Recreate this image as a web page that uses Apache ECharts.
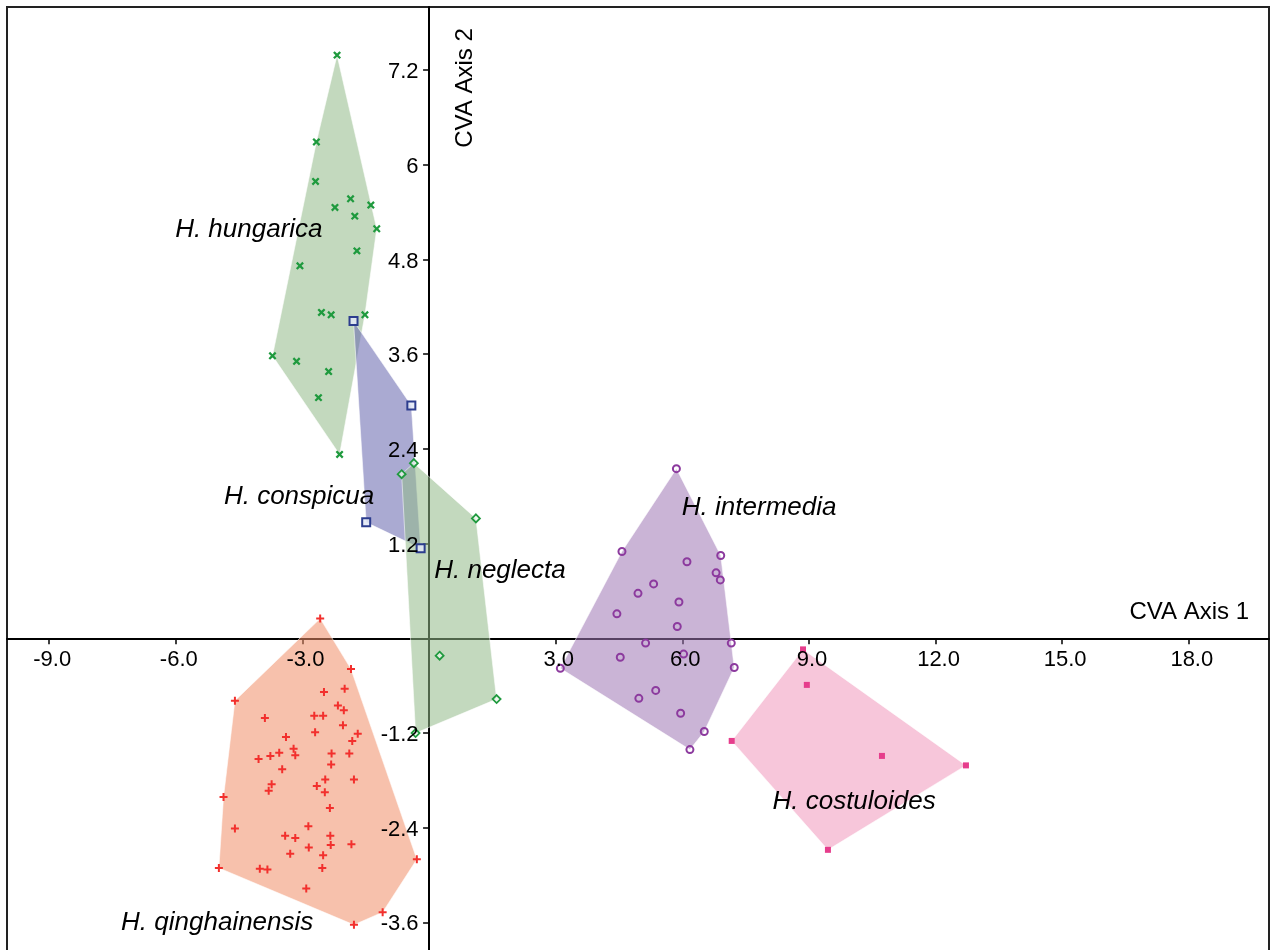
<!DOCTYPE html>
<html>
<head>
<meta charset="utf-8">
<script src="https://cdn.jsdelivr.net/npm/echarts@6/dist/echarts.min.js"></script>
<style>html,body{margin:0;padding:0;background:#fff}#c{width:1271px;height:950px}</style>
</head>
<body>
<div id="c"></div>
<script>
// ---- data (CVA scores) ----
const xTicks = [-9, -6, -3, 3, 6, 9, 12, 15, 18];
const yTicks = [-3.6, -2.4, -1.2, 1.2, 2.4, 3.6, 4.8, 6, 7.2];

const hungarica = [
  [-2.18, 7.39], [-2.67, 6.29], [-2.69, 5.79], [-1.86, 5.57], [-2.23, 5.46], [-1.38, 5.49],
  [-1.76, 5.35], [-1.24, 5.19], [-1.71, 4.91], [-3.06, 4.72], [-2.55, 4.13], [-2.32, 4.10],
  [-1.52, 4.10], [-3.71, 3.58], [-3.14, 3.51], [-2.38, 3.38], [-2.62, 3.05], [-2.12, 2.33]
];
const conspicua = [[-1.79, 4.02], [-0.42, 2.95], [-1.49, 1.47], [-0.20, 1.14]];
const neglecta = [[-0.36, 2.22], [-0.65, 2.08], [1.11, 1.52], [0.25, -0.22], [1.60, -0.77], [-0.32, -1.20]];
const qinghainensis = [
  [-2.58, 0.25], [-1.85, -0.39], [-2.49, -0.68], [-2.00, -0.64], [-4.60, -0.79], [-2.16, -0.85],
  [-2.02, -0.91], [-3.89, -1.01], [-2.72, -0.98], [-2.51, -0.98], [-2.04, -1.10], [-2.70, -1.19],
  [-1.69, -1.21], [-3.39, -1.25], [-1.82, -1.30], [-3.21, -1.40], [-3.55, -1.45], [-3.17, -1.48],
  [-3.76, -1.49], [-4.04, -1.53], [-2.31, -1.46], [-1.89, -1.46], [-2.32, -1.60], [-3.48, -1.66],
  [-2.46, -1.79], [-1.78, -1.79], [-3.73, -1.85], [-2.66, -1.87], [-3.80, -1.93], [-2.47, -1.95],
  [-4.87, -2.01], [-2.35, -2.15], [-4.60, -2.41], [-2.86, -2.38], [-3.41, -2.50], [-3.17, -2.53],
  [-2.34, -2.50], [-1.84, -2.61], [-2.33, -2.62], [-2.85, -2.65], [-3.29, -2.73], [-2.51, -2.75],
  [-0.29, -2.80], [-4.98, -2.91], [-4.01, -2.92], [-3.83, -2.93], [-2.53, -2.91], [-2.91, -3.17],
  [-1.10, -3.47], [-1.78, -3.63]
];
const intermedia = [
  [5.86, 2.15], [4.57, 1.10], [6.91, 1.05], [6.11, 0.97], [6.80, 0.83], [6.90, 0.74],
  [5.32, 0.69], [4.95, 0.57], [5.92, 0.46], [4.45, 0.31], [5.88, 0.15], [5.13, -0.06],
  [7.16, -0.06], [6.03, -0.20], [4.53, -0.24], [3.11, -0.38], [7.23, -0.37], [5.37, -0.66],
  [4.97, -0.76], [5.96, -0.95], [6.52, -1.18], [6.18, -1.41]
];
const costuloides = [[8.86, -0.14], [8.95, -0.59], [7.17, -1.30], [10.73, -1.49], [12.72, -1.61], [9.45, -2.68]];

const speciesNames = ['H. hungarica', 'H. conspicua', 'H. neglecta', 'H. qinghainensis', 'H. intermedia', 'H. costuloides'];
const labelAnchors = [[-4.27, 5.18], [-3.08, 1.79], [1.68, 0.85], [-5.02, -3.60], [7.82, 1.65], [10.07, -2.07]];

// ---- styling ----
const FONT = 'Liberation Sans, Arial, sans-serif';
const plusPath = 'path://M-1,-4H1V-1H4V1H1V4H-1V1H-4V-1H-1Z';
const groups = [
  { data: hungarica, fill: 'rgba(146,186,137,0.55)', sym: plusPath, rot: 45, size: 9,
    item: { color: '#1f9a3e' } },
  { data: conspicua, fill: 'rgba(100,100,173,0.55)', sym: 'rect', rot: 0, size: 8,
    item: { color: 'rgba(225,230,245,0.85)', borderColor: '#2c3d8e', borderWidth: 2 } },
  { data: neglecta, fill: 'rgba(146,186,137,0.55)', sym: 'diamond', rot: 0, size: 8,
    item: { color: 'rgba(235,245,235,0.7)', borderColor: '#1f9a3e', borderWidth: 1.8 } },
  { data: qinghainensis, fill: 'rgba(240,142,104,0.55)', sym: plusPath, rot: 0, size: 8,
    item: { color: '#f2302d' } },
  { data: intermedia, fill: 'rgba(159,119,180,0.55)', sym: 'circle', rot: 0, size: 7,
    item: { color: 'rgba(255,255,255,0)', borderColor: '#8c3a9e', borderWidth: 2 } },
  { data: costuloides, fill: 'rgba(240,151,188,0.55)', sym: 'rect', rot: 0, size: 6,
    item: { color: '#e63d8c' } }
];

function convexHull(points) {
  const p = points.slice().sort((a, b) => a[0] - b[0] || a[1] - b[1]);
  const cross = (o, a, b) => (a[0] - o[0]) * (b[1] - o[1]) - (a[1] - o[1]) * (b[0] - o[0]);
  const lower = [];
  for (const pt of p) {
    while (lower.length >= 2 && cross(lower[lower.length - 2], lower[lower.length - 1], pt) <= 0) lower.pop();
    lower.push(pt);
  }
  const upper = [];
  for (let i = p.length - 1; i >= 0; i--) {
    const pt = p[i];
    while (upper.length >= 2 && cross(upper[upper.length - 2], upper[upper.length - 1], pt) <= 0) upper.pop();
    upper.push(pt);
  }
  upper.pop(); lower.pop();
  return lower.concat(upper);
}

const series = [];
groups.forEach(g => {
  const h = convexHull(g.data);
  series.push({
    type: 'custom',
    silent: true,
    z: 1,
    data: h,
    encode: { x: 0, y: 1 },
    renderItem: (params, api) => {
      if (params.dataIndex !== 0) return null;
      const pts = h.map(pt => api.coord(pt));
      return {
        type: 'polygon',
        shape: { points: pts },
        style: { fill: g.fill, stroke: 'rgba(255,255,255,0.55)', lineWidth: 1 }
      };
    }
  });
});
groups.forEach(g => {
  series.push({
    type: 'scatter',
    z: 3,
    silent: true,
    symbol: g.sym,
    symbolRotate: g.rot,
    symbolSize: g.size,
    itemStyle: Object.assign({ opacity: 1 }, g.item),
    data: g.data
  });
});
const textLabel = (extra) => Object.assign({
  show: true, fontFamily: FONT, color: '#000', opacity: 1,
  textBorderWidth: 0, textBorderColor: 'transparent'
}, extra);
// species names
series.push({
  type: 'scatter',
  z: 4,
  silent: true,
  symbolSize: 1,
  itemStyle: { color: '#fff', opacity: 0 },
  label: textLabel({ position: 'inside', formatter: p => p.name, fontStyle: 'italic', fontSize: 26 }),
  data: speciesNames.map((n, i) => ({ name: n, value: labelAnchors[i] }))
});
// tick labels on the axes that cross at zero
series.push({
  type: 'scatter',
  z: 5,
  silent: true,
  symbolSize: 1,
  itemStyle: { color: '#fff', opacity: 0 },
  label: textLabel({ position: 'inside', offset: [3, 22], formatter: p => Number(p.value[0]).toFixed(1), fontSize: 22 }),
  data: xTicks.map(v => [v, 0])
});
series.push({
  type: 'scatter',
  z: 5,
  silent: true,
  symbolSize: 1,
  itemStyle: { color: '#fff', opacity: 0 },
  label: textLabel({ position: 'left', distance: 10, offset: [0, 2], formatter: p => String(Math.round(p.value[1] * 10) / 10), fontSize: 22 }),
  data: yTicks.map(v => [0, v])
});

const chart = echarts.init(document.getElementById('c'), null, { renderer: 'canvas' });
chart.setOption({
  animation: false,
  backgroundColor: '#fff',
  grid: { left: 7, right: 2, top: 7, bottom: -4, containLabel: false, outerBoundsMode: 'none',
    show: true, borderColor: '#222', borderWidth: 2, backgroundColor: 'transparent' },
  xAxis: {
    type: 'value', min: -10, max: 19.9,
    axisLine: { onZero: true, lineStyle: { color: '#000', width: 2 } },
    axisTick: { show: true, length: 6, lineStyle: { color: '#000', width: 1.5 }, customValues: xTicks },
    axisLabel: { show: false },
    splitLine: { show: false },
    name: 'CVA Axis 1',
    nameLocation: 'end',
    nameGap: -20,
    nameTextStyle: { fontFamily: FONT, fontSize: 24, color: '#000', align: 'right', verticalAlign: 'bottom', padding: [0, 0, 14, 0] }
  },
  yAxis: {
    type: 'value', min: -4, max: 8,
    axisLine: { onZero: true, lineStyle: { color: '#000', width: 2 } },
    axisTick: { show: true, length: 6, lineStyle: { color: '#000', width: 1.5 }, customValues: yTicks },
    axisLabel: { show: false },
    splitLine: { show: false }
  },
  graphic: [{
    type: 'text',
    x: 465, y: 88,
    rotation: Math.PI / 2,
    style: { text: 'CVA Axis 2', fontFamily: FONT, fontSize: 24, fill: '#000', align: 'center', verticalAlign: 'middle' }
  }],
  series: series
});
</script>
</body>
</html>
